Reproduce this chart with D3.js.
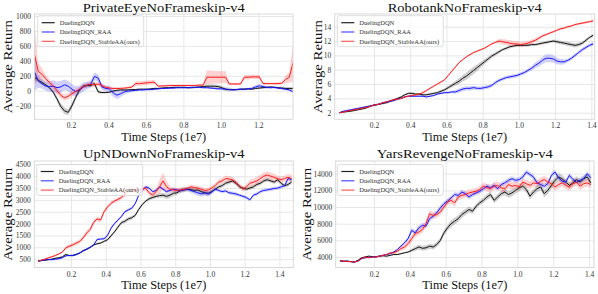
<!DOCTYPE html>
<html><head><meta charset="utf-8">
<script src="https://cdn.jsdelivr.net/npm/d3@7"></script>
<style>
body{margin:0;background:#fff}
svg{display:block}
text{font-family:"Liberation Serif","Times New Roman",serif}
</style>
</head><body>
<svg id="c" width="598" height="294"></svg>
<script>
const seriesNames = ["DuelingDQN", "DuelingDQN_RAA", "DuelingDQN_StableAA(ours)"];
const titles = ["PrivateEyeNoFrameskip-v4", "RobotankNoFrameskip-v4", "UpNDownNoFrameskip-v4", "YarsRevengeNoFrameskip-v4"];
const xLabel = "Time Steps (1e7)";
const yLabel = "Average Return";

// ---- PrivateEye (sampling start / step in 1e7 steps) ----
const peStart = 0.005, peStep = 0.02;
const peDQN = [180,140,110,80,40,-20,-110,-210,-270,-290,
  -200,-90,10,60,70,70,95,-15,-25,-25,
  -20,-5,5,10,10,10,15,15,20,20,
  20,25,30,30,35,40,40,45,45,45,
  45,40,40,45,50,55,60,60,60,55,
  40,20,15,15,15,20,20,25,20,30,
  35,40,45,50,45,40,35,30,30,30];
const peDQNSd = [40,30,25,20,20,25,35,40,45,40,
  40,35,30,25,25,25,30,25,12,12,
  12,12,12,12,12,12,12,12,12,12,
  12,12,12,12,12,12,12,12,12,12,
  12,12,12,12,12,12,25,25,25,25,
  25,25,25,12,12,12,12,12,12,12,
  12,12,12,12,12,12,20,20,20,20];
const peRAA = [250,130,90,60,55,60,40,50,80,60,
  20,-10,10,50,70,90,190,170,50,30,
  25,-30,-60,-40,-15,-5,0,5,10,10,
  15,15,20,25,30,30,35,35,40,40,
  40,40,45,45,45,40,40,35,30,25,
  25,20,15,10,15,20,20,25,30,50,
  65,55,45,40,45,35,30,20,10,-15];
const peRAASd = [250,90,60,60,70,80,80,80,70,70,
  70,70,60,60,50,50,50,50,40,40,
  40,50,50,45,35,25,20,15,12,12,
  12,12,12,12,12,12,12,12,12,12,
  12,12,12,12,12,12,12,12,12,12,
  12,12,12,12,15,15,15,15,20,25,
  25,20,20,15,15,15,15,15,15,15];
const peSAA = [480,260,220,160,110,60,0,-60,-95,-75,
  -40,-10,20,55,75,85,80,90,70,45,
  35,30,30,30,35,40,50,95,95,100,
  105,110,115,60,65,65,70,70,70,70,
  70,70,70,70,75,75,180,180,180,180,
  180,180,90,90,90,90,180,180,185,185,
  185,95,95,95,95,95,100,150,180,370];
const peSAASd = [420,110,80,50,40,40,40,40,40,40,
  40,30,30,30,30,30,30,30,30,25,
  20,15,15,15,15,15,15,30,30,30,
  30,30,30,12,12,12,12,12,12,12,
  12,12,12,12,12,12,90,90,85,85,
  80,80,15,15,15,15,30,30,30,30,
  30,15,15,15,15,15,15,50,70,250];
const peXTicks = [0.2, 0.4, 0.6, 0.8, 1.0, 1.2];
const peYTicks = [-200, 0, 200, 400, 600, 800, 1000];

// ---- Robotank ----
const rtStart = 0.01, rtStep = 0.02;
const rtDQN = [2.0,2.1,2.15,2.2,2.3,2.4,2.5,2.6,2.8,3.0,
  3.1,3.2,3.3,3.4,3.6,3.8,4.0,4.2,4.5,4.7,
  4.7,4.6,4.6,4.5,4.5,4.6,4.7,4.8,5.0,5.2,
  5.5,5.8,6.1,6.4,6.8,7.1,7.5,7.9,8.3,8.7,
  9.1,9.5,9.9,10.2,10.5,10.8,11.0,11.2,11.3,11.4,
  11.4,11.4,11.4,11.5,11.5,11.6,11.7,11.8,11.9,12.0,
  11.9,11.8,11.7,11.6,11.5,11.4,11.5,11.7,12.1,12.5,12.8];
const rtDQNSd = [0.1,0.1,0.1,0.1,0.1,0.1,0.1,0.1,0.12,0.12,
  0.12,0.12,0.15,0.15,0.15,0.15,0.15,0.15,0.15,0.15,
  0.15,0.15,0.15,0.15,0.15,0.15,0.15,0.15,0.2,0.2,
  0.25,0.3,0.35,0.4,0.45,0.5,0.5,0.5,0.45,0.4,
  0.35,0.3,0.3,0.25,0.25,0.2,0.2,0.2,0.2,0.2,
  0.2,0.2,0.2,0.2,0.2,0.2,0.2,0.2,0.2,0.2,
  0.25,0.25,0.25,0.3,0.3,0.3,0.3,0.25,0.25,0.2,0.2];
const rtRAA = [2.0,2.2,2.3,2.4,2.5,2.6,2.7,2.8,2.9,3.0,
  3.1,3.2,3.4,3.5,3.6,3.7,3.9,4.0,4.2,4.3,
  4.3,4.3,4.3,4.3,4.2,4.3,4.4,4.6,4.7,4.8,
  4.8,4.9,4.9,5.1,5.3,5.4,5.4,5.5,5.4,5.4,
  5.5,5.6,5.8,6.2,6.5,6.7,6.9,7.0,7.1,7.2,
  7.4,7.6,7.9,8.2,8.6,8.9,9.3,9.6,9.6,9.5,
  9.2,9.1,9.1,9.3,9.6,10.0,10.4,10.8,11.1,11.4,11.6];
const rtRAASd = [0.12,0.12,0.12,0.12,0.12,0.12,0.12,0.12,0.12,0.12,
  0.12,0.12,0.12,0.12,0.12,0.12,0.12,0.12,0.12,0.12,
  0.12,0.12,0.12,0.12,0.12,0.12,0.12,0.12,0.12,0.15,
  0.15,0.2,0.25,0.3,0.3,0.3,0.3,0.3,0.25,0.25,
  0.25,0.25,0.25,0.25,0.25,0.25,0.25,0.25,0.25,0.25,
  0.25,0.25,0.25,0.3,0.4,0.45,0.5,0.55,0.55,0.5,
  0.45,0.4,0.35,0.25,0.25,0.25,0.25,0.25,0.25,0.25,0.25];
const rtSAA = [2.0,2.1,2.2,2.3,2.4,2.5,2.6,2.7,2.8,3.0,
  3.1,3.2,3.4,3.5,3.7,3.8,3.9,4.0,4.2,4.3,
  4.4,4.5,4.6,4.8,5.1,5.4,5.7,6.0,6.3,6.6,
  7.2,7.8,8.4,9.0,9.4,9.8,10.1,10.4,10.6,10.8,
  11.0,11.3,11.6,11.8,12.0,11.9,11.8,11.7,11.6,11.6,
  11.5,11.6,11.7,11.9,12.1,12.4,12.7,12.9,13.1,13.3,
  13.5,13.7,13.8,14.0,14.1,14.3,14.4,14.5,14.6,14.7,14.8];
const rtSAASd = [0.1,0.1,0.1,0.1,0.1,0.1,0.1,0.1,0.12,0.12,
  0.12,0.12,0.12,0.12,0.12,0.12,0.12,0.12,0.12,0.12,
  0.12,0.12,0.12,0.12,0.12,0.12,0.12,0.12,0.12,0.12,
  0.12,0.12,0.12,0.12,0.12,0.12,0.12,0.12,0.12,0.12,
  0.12,0.12,0.12,0.12,0.3,0.35,0.4,0.4,0.4,0.4,
  0.35,0.35,0.3,0.3,0.25,0.25,0.2,0.15,0.15,0.15,
  0.15,0.15,0.15,0.15,0.15,0.15,0.15,0.15,0.15,0.15,0.15];
const rtXTicks = [0.2, 0.4, 0.6, 0.8, 1.0, 1.2, 1.4];
const rtYTicks = [2, 4, 6, 8, 10, 12, 14];

// ---- UpNDown ----
const udStart = 0.01, udStep = 0.02;
const udDQN = [420,440,460,480,500,540,560,600,700,650,
  660,700,760,860,920,1000,1100,1150,1180,1250,
  1320,1480,1650,1850,2040,2100,2200,2250,2350,2600,
  2800,2950,3050,3100,3150,3180,3200,3150,3200,3280,
  3300,3400,3420,3450,3430,3400,3420,3350,3300,3280,
  3350,3450,3550,3600,3700,3750,3800,3700,3550,3500,
  3450,3500,3550,3650,3700,3800,3850,3800,3750,3850,
  3700,3600,3650,3750];
const udDQNSd = [30,30,30,30,30,30,30,30,40,40,
  40,40,40,40,40,40,40,40,40,40,
  60,60,60,70,70,80,80,80,70,60,
  60,60,70,70,80,90,100,110,110,100,
  100,100,100,90,90,90,100,100,100,100,
  90,80,80,80,80,80,80,80,80,80,
  80,80,80,80,80,80,80,80,80,80,
  80,80,80,80];
const udRAA = [420,450,470,490,480,500,520,560,640,660,
  650,700,760,850,920,1000,1100,1330,1350,1360,
  1500,1800,2000,2150,2300,2500,2580,2650,2850,3200,
  3400,3550,3500,3350,3400,3550,3450,3350,3400,3450,
  3420,3380,3430,3450,3400,3350,3300,3250,3300,3250,
  3330,3450,3400,3350,3380,3300,3280,3250,3200,3150,
  3100,3000,3200,3250,3350,3400,3420,3450,3480,3500,
  3550,3600,3900,3850];
const udRAASd = [30,30,30,30,30,30,30,30,30,30,
  40,40,40,40,40,40,50,50,50,50,
  60,60,60,60,60,60,60,60,60,60,
  60,60,60,60,60,60,70,70,70,70,
  80,80,80,90,100,110,120,120,110,100,
  90,70,70,70,70,70,70,70,70,70,
  70,70,70,70,70,70,70,70,70,70,
  70,70,70,70];
const udSAA = [420,460,500,560,600,660,720,800,980,1050,
  1100,1180,1250,1400,1600,1750,2050,2200,2150,2500,
  2700,2850,2950,3020,3100,3250,3400,3450,3420,3400,
  3450,3500,3300,3200,3350,3550,3800,3550,3450,3420,
  3400,3420,3450,3480,3550,3520,3500,3450,3400,3420,
  3500,3600,3750,3800,3900,3880,3850,3750,3600,3450,
  3550,3700,3750,3800,3900,4000,4050,4000,3950,3900,
  3850,3900,3950,3900];
const udSAASd = [40,40,40,40,40,40,40,40,70,80,
  80,80,90,90,100,100,100,90,90,80,
  80,80,80,80,80,120,120,120,120,120,
  120,120,110,110,120,300,350,250,100,100,
  90,90,90,90,100,100,100,100,100,100,
  100,100,110,120,130,130,120,110,100,100,
  100,150,150,160,170,160,150,150,140,130,
  130,130,140,150];
const udXTicks = [0.2, 0.4, 0.6, 0.8, 1.0, 1.2, 1.4];
const udYTicks = [500, 1000, 1500, 2000, 2500, 3000, 3500, 4000, 4500];

// ---- YarsRevenge ----
const yrStart = 0.01, yrStep = 0.02;
const yrDQN = [3550,3500,3500,3450,3400,3600,3900,4000,4100,4050,
  4000,4100,4150,4100,4200,4300,4300,4400,4500,4600,
  4800,5000,5200,5050,5100,5300,5200,5500,6000,6900,
  7500,8000,8300,8600,9100,9400,9700,9500,10100,10500,
  10800,11200,11500,10800,11200,11600,11800,11500,11700,12000,
  12300,12500,12100,11300,11800,12200,12400,11600,12000,12600,
  13200,13600,13400,13000,12600,12900,13300,13000,13400,13600,12900];
const yrDQNSd = [80,80,80,80,80,80,80,80,80,80,
  80,80,80,80,80,80,80,80,80,80,
  200,250,300,300,300,300,300,300,300,350,
  350,400,400,400,400,400,350,350,300,300,
  300,350,350,350,350,350,400,400,400,400,
  400,400,400,400,400,400,400,450,450,450,
  450,450,450,400,400,400,400,400,400,400,400];
const yrRAA = [3550,3450,3500,3450,3400,3500,3800,3900,3950,4000,
  4050,4100,4200,4300,4400,4600,4900,5300,5700,6200,
  7200,6900,7500,7800,7700,8600,8900,9300,9900,10400,
  10700,11100,11500,11400,11800,11600,11200,11500,11700,11900,
  12200,12500,12300,12600,12200,12700,12900,13200,13400,13200,
  13300,13600,14200,13900,13600,12900,12700,12500,12800,13800,
  14200,13500,13100,13000,13800,13300,13000,13200,13400,14000,13500];
const yrRAASd = [60,60,60,60,60,60,60,60,60,60,
  60,60,60,60,60,80,100,150,200,250,
  300,300,300,300,300,300,300,300,300,300,
  300,300,300,300,300,300,300,300,300,300,
  300,300,300,300,300,300,300,300,300,300,
  300,300,300,300,300,300,300,300,300,300,
  300,300,300,300,300,300,300,300,300,300,300];
const yrSAA = [3550,3500,3450,3450,3400,3500,3800,4000,3900,4000,
  4000,4100,4200,4300,4500,4500,4700,5000,5200,5600,
  6200,6800,7000,7300,8000,9200,9000,9100,9400,10000,
  10600,10800,10500,11200,11400,11500,11700,11800,11900,12100,
  12500,12300,12200,12500,12600,12300,12200,12700,12500,12600,
  12400,13000,12800,12600,12900,12800,13100,13300,13000,12800,
  12400,12700,12900,12600,12400,12800,13000,12500,12800,12900,12700];
const yrSAASd = [80,80,80,80,80,80,80,80,80,100,
  100,100,100,100,120,150,200,250,300,350,
  400,400,400,400,400,400,400,400,400,400,
  400,400,400,400,400,400,400,400,400,400,
  400,450,450,450,450,450,450,450,450,450,
  450,450,450,450,450,450,450,450,450,450,
  450,450,450,450,450,450,450,450,450,450,450];
const yrXTicks = [0.2, 0.4, 0.6, 0.8, 1.0, 1.2, 1.4];
const yrYTicks = [4000, 6000, 8000, 10000, 12000, 14000];

// ---------------- layout & style ----------------
const colors = ["#111111", "#1515ff", "#ff1a1a"];
const handleColors = ["#222222", "#4a4aff", "#ff5a5a"];
const legendWidths = [35, 51.7, 80];

const panels = [
  {title: titles[0], start: peStart, step: peStep, means: [peDQN, peRAA, peSAA], sds: [peDQNSd, peRAASd, peSAASd],
   xTicks: peXTicks, yTicks: peYTicks, xDom: [0.005, 1.385], yDom: [-383, 1027],
   box: {l: 34.5, r: 293, t: 14, b: 119.3}, leg: {x: 37.7, y: 15.7}, titleY: 12, titleW: 162, xLabY: 141, yLabX: 12},
  {title: titles[1], start: rtStart, step: rtStep, means: [rtDQN, rtRAA, rtSAA], sds: [rtDQNSd, rtRAASd, rtSAASd],
   xTicks: rtXTicks, yTicks: rtYTicks, xDom: [-0.017, 1.4185], yDom: [1.08, 15.77],
   box: {l: 334.7, r: 594.7, t: 14, b: 119.3}, leg: {x: 337.3, y: 15.7}, titleY: 12, titleW: 154, xLabY: 141, yLabX: 321.5},
  {title: titles[2], start: udStart, step: udStep, means: [udDQN, udRAA, udSAA], sds: [udDQNSd, udRAASd, udSAASd],
   xTicks: udXTicks, yTicks: udYTicks, xDom: [-0.0115, 1.48], yDom: [150, 4640],
   box: {l: 34.3, r: 293.3, t: 161, b: 267.5}, leg: {x: 36.7, y: 164.5}, titleY: 158, titleW: 161.5, xLabY: 288.5, yLabX: 12},
  {title: titles[3], start: yrStart, step: yrStep, means: [yrDQN, yrRAA, yrSAA], sds: [yrDQNSd, yrRAASd, yrSAASd],
   xTicks: yrXTicks, yTicks: yrYTicks, xDom: [-0.014, 1.4275], yDom: [2740, 15525],
   box: {l: 335.7, r: 594, t: 161, b: 267.5}, leg: {x: 337.3, y: 164.5}, titleY: 158, titleW: 176, xLabY: 288.5, yLabX: 310.5}
];

const svg = d3.select("#c");
svg.append("rect").attr("width", 598).attr("height", 294).attr("fill", "#fff");

panels.forEach((p, pi) => {
  const B = p.box;
  const x = d3.scaleLinear().domain(p.xDom).range([B.l, B.r]);
  const y = d3.scaleLinear().domain(p.yDom).range([B.b, B.t]);
  const g = svg.append("g");

  const clipId = "clip" + pi;
  g.append("clipPath").attr("id", clipId).append("rect")
    .attr("x", B.l).attr("y", B.t).attr("width", B.r - B.l).attr("height", B.b - B.t);

  // grid
  const gx = g.append("g").attr("transform", `translate(0,${B.b})`)
    .call(d3.axisBottom(x).tickValues(p.xTicks).tickSize(-(B.b - B.t)).tickFormat(""));
  const gy = g.append("g").attr("transform", `translate(${B.l},0)`)
    .call(d3.axisLeft(y).tickValues(p.yTicks).tickSize(-(B.r - B.l)).tickFormat(""));
  [gx, gy].forEach(a => {
    a.select(".domain").remove();
    a.selectAll("line").attr("stroke", "#e4e4e4").attr("stroke-width", 0.9);
  });

  // data
  const plot = g.append("g").attr("clip-path", `url(#${clipId})`);
  const order = [0, 1, 2];
  order.forEach(si => {
    const m = p.means[si], s = p.sds[si];
    const pts = m.map((v, i) => ({x: p.start + p.step * i, v: v, sd: s[i] !== undefined ? s[i] : 0}));
    const area = d3.area().x(d => x(d.x)).y0(d => y(d.v - d.sd)).y1(d => y(d.v + d.sd));
    plot.append("path").attr("d", area(pts)).attr("fill", colors[si]).attr("fill-opacity", 0.2).attr("stroke", "none");
  });
  order.forEach(si => {
    const m = p.means[si];
    const pts = m.map((v, i) => ({x: p.start + p.step * i, v: v}));
    const line = d3.line().x(d => x(d.x)).y(d => y(d.v));
    plot.append("path").attr("d", line(pts)).attr("fill", "none")
      .attr("stroke", colors[si]).attr("stroke-width", 1).attr("stroke-linejoin", "round");
  });

  // frame
  g.append("rect").attr("x", B.l).attr("y", B.t).attr("width", B.r - B.l).attr("height", B.b - B.t)
    .attr("fill", "none").attr("stroke", "#d6d6d6").attr("stroke-width", 0.9);

  // tick labels
  const ax = g.append("g").attr("transform", `translate(0,${B.b})`)
    .call(d3.axisBottom(x).tickValues(p.xTicks).tickSize(0).tickPadding(3.8).tickFormat(d3.format(".1f")));
  const ay = g.append("g").attr("transform", `translate(${B.l},0)`)
    .call(d3.axisLeft(y).tickValues(p.yTicks).tickSize(0).tickPadding(3.5).tickFormat(d3.format("d")));
  [ax, ay].forEach(a => {
    a.select(".domain").remove();
    a.selectAll("text").attr("font-family", "Liberation Serif, serif").attr("font-size", 7.5).attr("fill", "#333");
  });

  // title and axis labels
  g.append("text").attr("x", (B.l + B.r) / 2).attr("y", p.titleY).attr("text-anchor", "middle")
    .attr("font-size", 13.5).attr("fill", "#111")
    .attr("textLength", p.titleW).attr("lengthAdjust", "spacingAndGlyphs").text(p.title);
  g.append("text").attr("x", (B.l + B.r) / 2).attr("y", p.xLabY).attr("text-anchor", "middle")
    .attr("font-size", 12).attr("fill", "#111")
    .attr("textLength", 85).attr("lengthAdjust", "spacingAndGlyphs").text(xLabel);
  g.append("text").attr("transform", `translate(${p.yLabX},${(B.t + B.b) / 2}) rotate(-90)`)
    .attr("text-anchor", "middle").attr("font-size", 13.5).attr("fill", "#111")
    .attr("textLength", 93).attr("lengthAdjust", "spacingAndGlyphs").text(yLabel);

  // legend
  const L = p.leg;
  const lg = g.append("g").attr("transform", `translate(${L.x},${L.y})`);
  lg.append("rect").attr("width", 106).attr("height", 31).attr("rx", 2).attr("ry", 2)
    .attr("fill", "#fff").attr("fill-opacity", 0.8).attr("stroke", "#d4d4d4").attr("stroke-width", 0.8);
  seriesNames.forEach((name, si) => {
    const ry = 7 + si * 9.3;
    lg.append("line").attr("x1", 4).attr("x2", 17).attr("y1", ry).attr("y2", ry)
      .attr("stroke", handleColors[si]).attr("stroke-width", 1.2);
    lg.append("text").attr("x", 22).attr("y", ry + 2.3).attr("font-size", 6.6).attr("fill", "#333")
      .attr("textLength", legendWidths[si]).attr("lengthAdjust", "spacingAndGlyphs").text(name);
  });
});
</script>
</body></html>
